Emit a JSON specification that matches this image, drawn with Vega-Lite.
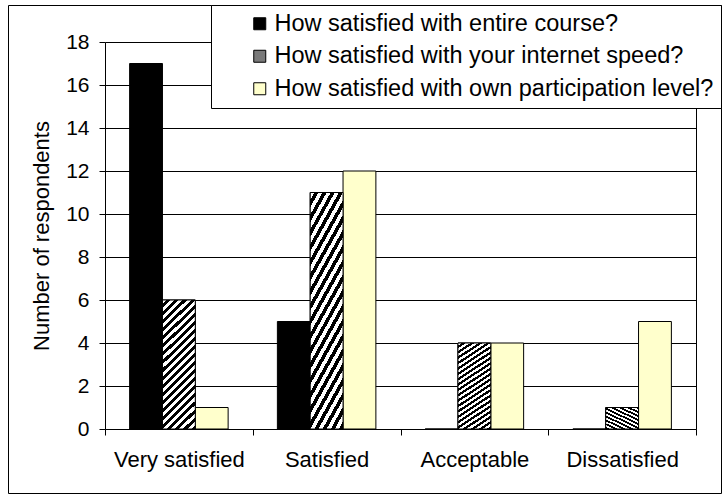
{
  "$schema": "https://vega.github.io/schema/vega-lite/v6.json",
  "autosize": "none",
  "width": 713,
  "height": 488,
  "padding": {"left": 8, "top": 5, "right": 2, "bottom": 6},
  "background": "white",
  "config": {
    "view": {"stroke": "black", "strokeWidth": 1},
    "font": "Liberation Sans",
    "axis": {"labelFont": "Liberation Sans", "titleFont": "Liberation Sans", "labelColor": "black", "titleColor": "black", "domainColor": "black", "tickColor": "black", "domainWidth": 1, "tickWidth": 1},
    "legend": {"labelFont": "Liberation Sans"}
  },
  "data": {
    "values": [
      {"rating": "Very satisfied", "question": "How satisfied with entire course?", "count": 17},
      {"rating": "Very satisfied", "question": "How satisfied with your internet speed?", "count": 6},
      {"rating": "Very satisfied", "question": "How satisfied with own participation level?", "count": 1},
      {"rating": "Satisfied", "question": "How satisfied with entire course?", "count": 5},
      {"rating": "Satisfied", "question": "How satisfied with your internet speed?", "count": 11},
      {"rating": "Satisfied", "question": "How satisfied with own participation level?", "count": 12},
      {"rating": "Acceptable", "question": "How satisfied with entire course?", "count": 0},
      {"rating": "Acceptable", "question": "How satisfied with your internet speed?", "count": 4},
      {"rating": "Acceptable", "question": "How satisfied with own participation level?", "count": 4},
      {"rating": "Dissatisfied", "question": "How satisfied with entire course?", "count": 0},
      {"rating": "Dissatisfied", "question": "How satisfied with your internet speed?", "count": 1},
      {"rating": "Dissatisfied", "question": "How satisfied with own participation level?", "count": 5}
    ]
  },
  "resolve": {"axis": {"y": "independent"}},
  "layer": [
    {
      "mark": {"type": "bar", "stroke": "black", "strokeWidth": 1},
      "encoding": {
        "x": {
          "field": "rating", "type": "nominal",
          "sort": ["Very satisfied", "Satisfied", "Acceptable", "Dissatisfied"],
          "scale": {"range": [97, 688], "paddingInner": 0, "paddingOuter": 0},
          "axis": {"title": null, "orient": "bottom", "offset": -64, "labelAngle": 0, "labelFontSize": 22, "labelPadding": 14, "tickSize": 6, "tickBand": "extent", "grid": false}
        },
        "xOffset": {
          "field": "question", "type": "nominal",
          "sort": ["How satisfied with entire course?", "How satisfied with your internet speed?", "How satisfied with own participation level?"],
          "scale": {"domain": ["How satisfied with entire course?", "How satisfied with your internet speed?", "How satisfied with own participation level?"], "paddingInner": 0, "paddingOuter": 0.75}
        },
        "y": {
          "field": "count", "type": "quantitative",
          "scale": {"domain": [0, 18], "range": [424, 37], "nice": false, "zero": true},
          "axis": {"title": "Number of respondents", "orient": "left", "offset": -97, "values": [0, 2, 4, 6, 8, 10, 12, 14, 16, 18], "labelFontSize": 21, "labelPadding": 10, "tickSize": 6, "titleFontSize": 22, "titleFontWeight": "normal", "titlePadding": 12, "grid": true, "gridColor": "black", "gridWidth": 1, "gridOpacity": 1}
        },
        "color": {
          "field": "question", "type": "nominal",
          "scale": {
            "domain": ["How satisfied with entire course?", "How satisfied with your internet speed?", "How satisfied with own participation level?"],
            "range": ["black", "#7a7a7a", "#FFFFCC"]
          },
          "legend": {
            "title": null, "orient": "none", "legendX": 203, "legendY": 0,
            "direction": "vertical",
            "strokeColor": "black", "fillColor": "white", "padding": 7,
            "symbolType": "square", "symbolSize": 144, "symbolStrokeColor": "black", "symbolStrokeWidth": 1, "symbolOffset": 30,
            "labelFontSize": 23.5, "labelColor": "black", "labelOffset": 3, "labelLimit": 600, "rowPadding": 7.5
          }
        }
      }
    },
    {
      "transform": [{"filter": "datum.question === 'How satisfied with your internet speed?'"}],
      "mark": {"type": "bar", "stroke": "black", "strokeWidth": 1,
        "color": {"gradient": "linear", "x1": 0, "y1": 0, "x2": 0.294, "y2": 1.176, "stops": [
          {"offset": 0, "color": "white"}, {"offset": 0.025, "color": "white"}, {"offset": 0.025, "color": "black"}, {"offset": 0.05, "color": "black"},
          {"offset": 0.05, "color": "white"}, {"offset": 0.075, "color": "white"}, {"offset": 0.075, "color": "black"}, {"offset": 0.1, "color": "black"},
          {"offset": 0.1, "color": "white"}, {"offset": 0.125, "color": "white"}, {"offset": 0.125, "color": "black"}, {"offset": 0.15, "color": "black"},
          {"offset": 0.15, "color": "white"}, {"offset": 0.175, "color": "white"}, {"offset": 0.175, "color": "black"}, {"offset": 0.2, "color": "black"},
          {"offset": 0.2, "color": "white"}, {"offset": 0.225, "color": "white"}, {"offset": 0.225, "color": "black"}, {"offset": 0.25, "color": "black"},
          {"offset": 0.25, "color": "white"}, {"offset": 0.275, "color": "white"}, {"offset": 0.275, "color": "black"}, {"offset": 0.3, "color": "black"},
          {"offset": 0.3, "color": "white"}, {"offset": 0.325, "color": "white"}, {"offset": 0.325, "color": "black"}, {"offset": 0.35, "color": "black"},
          {"offset": 0.35, "color": "white"}, {"offset": 0.375, "color": "white"}, {"offset": 0.375, "color": "black"}, {"offset": 0.4, "color": "black"},
          {"offset": 0.4, "color": "white"}, {"offset": 0.425, "color": "white"}, {"offset": 0.425, "color": "black"}, {"offset": 0.45, "color": "black"},
          {"offset": 0.45, "color": "white"}, {"offset": 0.475, "color": "white"}, {"offset": 0.475, "color": "black"}, {"offset": 0.5, "color": "black"},
          {"offset": 0.5, "color": "white"}, {"offset": 0.525, "color": "white"}, {"offset": 0.525, "color": "black"}, {"offset": 0.55, "color": "black"},
          {"offset": 0.55, "color": "white"}, {"offset": 0.575, "color": "white"}, {"offset": 0.575, "color": "black"}, {"offset": 0.6, "color": "black"},
          {"offset": 0.6, "color": "white"}, {"offset": 0.625, "color": "white"}, {"offset": 0.625, "color": "black"}, {"offset": 0.65, "color": "black"},
          {"offset": 0.65, "color": "white"}, {"offset": 0.675, "color": "white"}, {"offset": 0.675, "color": "black"}, {"offset": 0.7, "color": "black"},
          {"offset": 0.7, "color": "white"}, {"offset": 0.725, "color": "white"}, {"offset": 0.725, "color": "black"}, {"offset": 0.75, "color": "black"},
          {"offset": 0.75, "color": "white"}, {"offset": 0.775, "color": "white"}, {"offset": 0.775, "color": "black"}, {"offset": 0.8, "color": "black"},
          {"offset": 0.8, "color": "white"}, {"offset": 0.825, "color": "white"}, {"offset": 0.825, "color": "black"}, {"offset": 0.85, "color": "black"},
          {"offset": 0.85, "color": "white"}, {"offset": 0.875, "color": "white"}, {"offset": 0.875, "color": "black"}, {"offset": 0.9, "color": "black"},
          {"offset": 0.9, "color": "white"}, {"offset": 0.925, "color": "white"}, {"offset": 0.925, "color": "black"}, {"offset": 0.95, "color": "black"},
          {"offset": 0.95, "color": "white"}, {"offset": 0.975, "color": "white"}, {"offset": 0.975, "color": "black"}, {"offset": 1, "color": "black"}
        ]}
      },
      "encoding": {
        "x": {"field": "rating", "type": "nominal", "sort": ["Very satisfied", "Satisfied", "Acceptable", "Dissatisfied"]},
        "xOffset": {"field": "question", "type": "nominal", "sort": ["How satisfied with entire course?", "How satisfied with your internet speed?", "How satisfied with own participation level?"]},
        "y": {"field": "count", "type": "quantitative", "axis": null}
      }
    },
    {
      "mark": {"type": "bar", "fillOpacity": 0, "strokeOpacity": 0},
      "encoding": {
        "x": {"field": "rating", "type": "nominal", "sort": ["Very satisfied", "Satisfied", "Acceptable", "Dissatisfied"]},
        "y": {
          "field": "count", "type": "quantitative",
          "axis": {"title": null, "orient": "right", "offset": -25, "labels": false, "ticks": false, "grid": false, "domain": true}
        }
      }
    }
  ]
}
